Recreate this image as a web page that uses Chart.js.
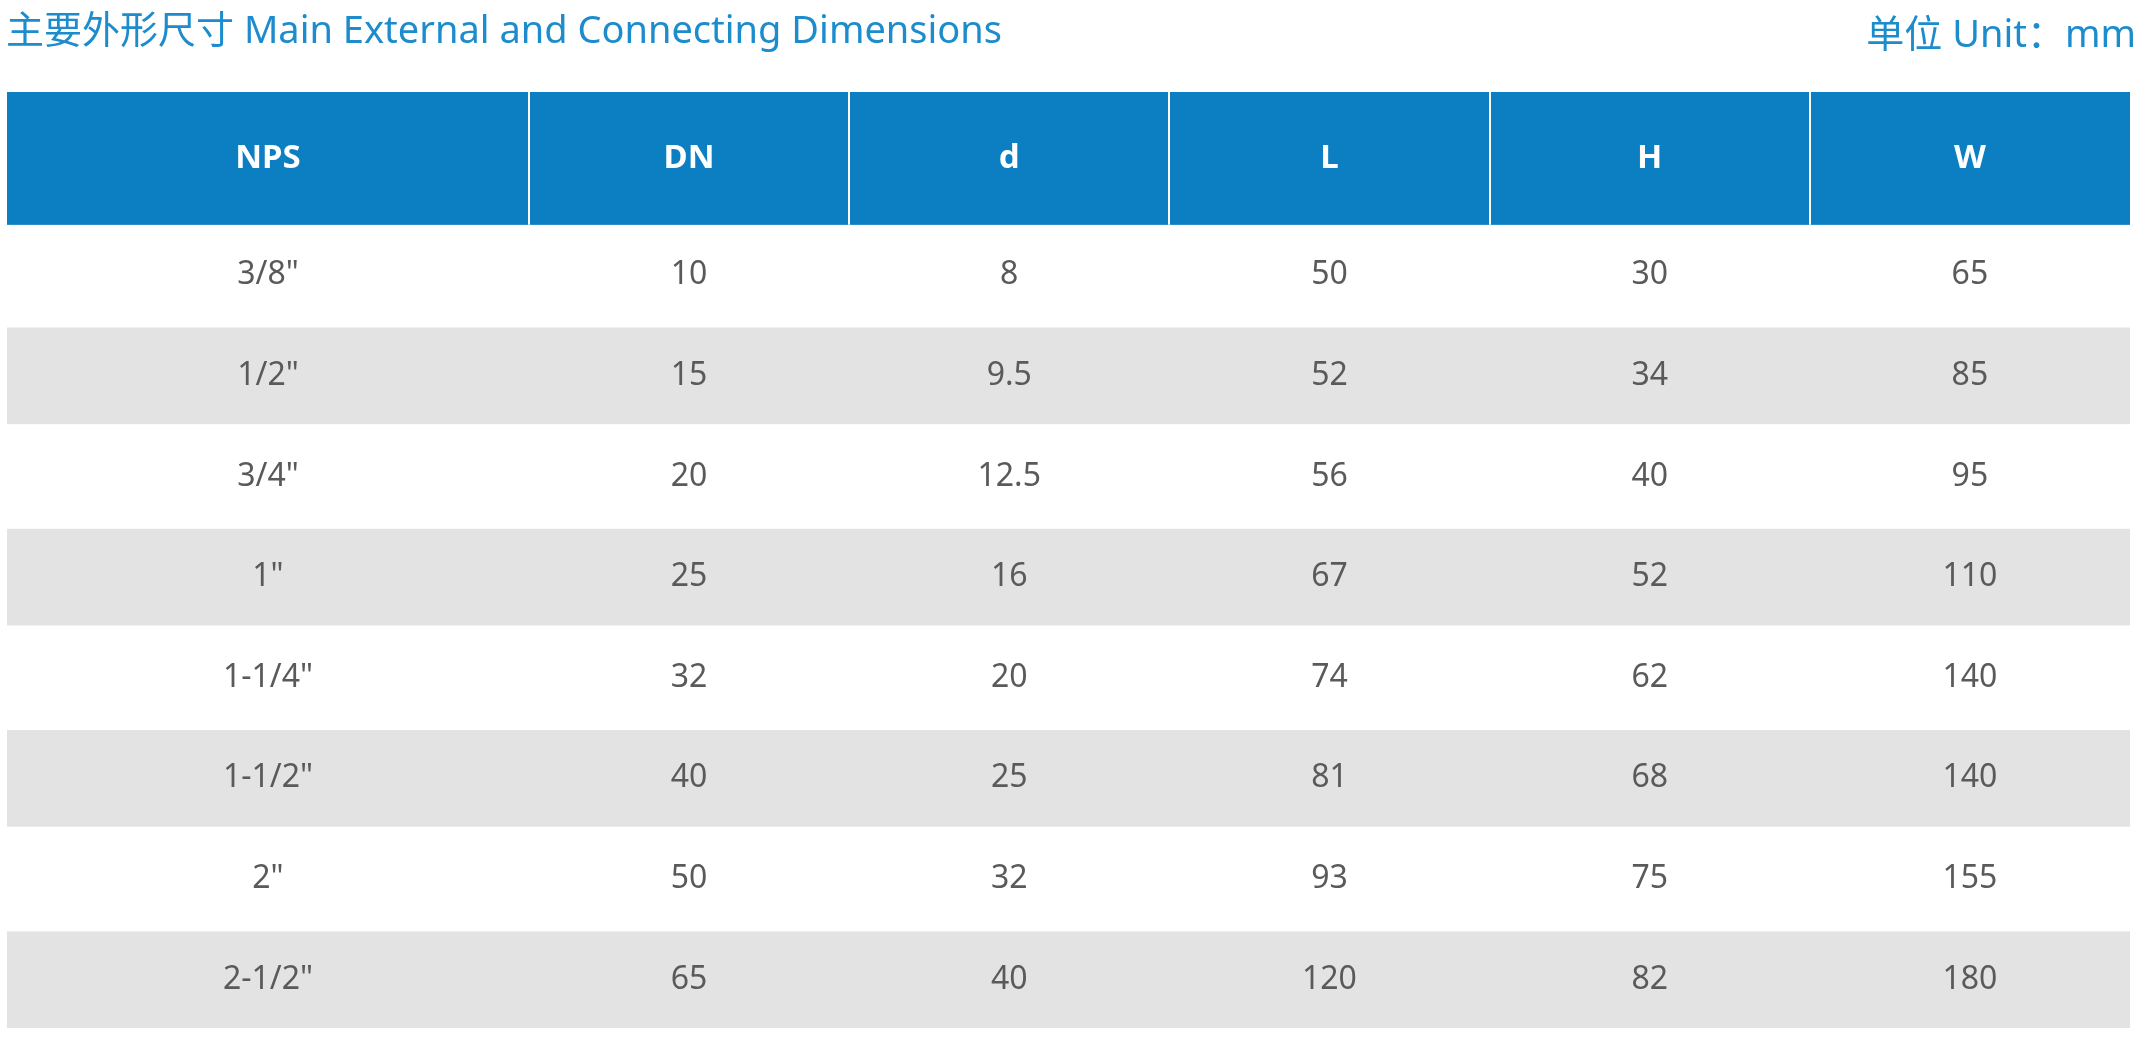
<!DOCTYPE html>
<html><head><meta charset="utf-8">
<script src="https://cdn.jsdelivr.net/npm/chart.js@4"></script>
<style>html,body{margin:0;padding:0;background:#fff;overflow:hidden}#wrap{width:2141px;height:1045px;position:relative}</style>
</head><body><div id="wrap"><canvas id="c"></canvas></div>
<script>
const columns = ["NPS","DN","d","L","H","W"];
const NPS = ['3/8"','1/2"','3/4"','1"','1-1/4"','1-1/2"','2"','2-1/2"'];
const DN = [10,15,20,25,32,40,50,65];
const dVals = [8,9.5,12.5,16,20,25,32,40];
const L = [50,52,56,67,74,81,93,120];
const H = [30,34,40,52,62,68,75,82];
const W = [65,85,95,110,140,140,155,180];
const title = "主要外形尺寸 Main External and Connecting Dimensions";
const unit = "单位 Unit：mm";

const cols = [NPS,DN,dVals,L,H,W];
const bounds = [0,1.63,2.63,3.63,4.63,5.63,6.63];
const HEAD = 1.32;
const points = [];
cols.forEach((arr,ci)=>arr.forEach((v,ri)=>points.push({x:(bounds[ci]+bounds[ci+1])/2,y:HEAD+ri+0.5,t:String(v)})));

const tablePlugin = {
  id:'table',
  beforeDatasetsDraw(chart){
    const {ctx,scales:{x,y}} = chart;
    ctx.save();
    const x0=x.getPixelForValue(0), x1=x.getPixelForValue(bounds[6]);
    ctx.fillStyle='#0b7fc1';
    ctx.fillRect(x0,y.getPixelForValue(0),x1-x0,y.getPixelForValue(HEAD)-y.getPixelForValue(0));
    for(let r=0;r<NPS.length;r++){
      if(r%2===1){
        const ya=y.getPixelForValue(HEAD+r)+2, yb=y.getPixelForValue(HEAD+r+1)-2;
        ctx.fillStyle='#e3e3e3';
        ctx.fillRect(x0,ya,x1-x0,yb-ya);
      }
    }
    ctx.strokeStyle='#ffffff';ctx.lineWidth=2;
    for(let c=1;c<6;c++){
      const px=Math.round(x.getPixelForValue(bounds[c]));
      ctx.beginPath();ctx.moveTo(px,y.getPixelForValue(0));ctx.lineTo(px,y.getPixelForValue(HEAD));ctx.stroke();
    }
    ctx.textAlign='center';ctx.textBaseline='middle';
    ctx.fillStyle='#ffffff';ctx.font='bold 33px "Noto Sans"';
    columns.forEach((h,c)=>ctx.fillText(h,x.getPixelForValue((bounds[c]+bounds[c+1])/2),y.getPixelForValue(HEAD/2)));
    ctx.fillStyle='#5a5a5a';ctx.font='32px "Noto Sans"';
    chart.data.datasets[0].data.forEach(p=>ctx.fillText(p.t,x.getPixelForValue(p.x),y.getPixelForValue(p.y)));
    ctx.fillStyle='#1d8ccc';ctx.font='38px "Noto Sans", "Noto Sans CJK SC"';
    ctx.textAlign='left';ctx.fillText(title,6,32);
    ctx.textAlign='right';ctx.fillText(unit,2136,36);
    ctx.restore();
  }
};

new Chart(document.getElementById('c'),{
  type:'scatter',
  data:{datasets:[{data:points,pointRadius:0}]},
  options:{
    responsive:true,maintainAspectRatio:false,animation:false,
    layout:{padding:{left:7,right:11,top:92,bottom:15}},
    plugins:{legend:{display:false},tooltip:{enabled:false}},
    scales:{
      x:{type:'linear',min:0,max:bounds[6],display:false},
      y:{type:'linear',min:0,max:HEAD+8,reverse:true,display:false}
    }
  },
  plugins:[tablePlugin]
});
</script></body></html>
